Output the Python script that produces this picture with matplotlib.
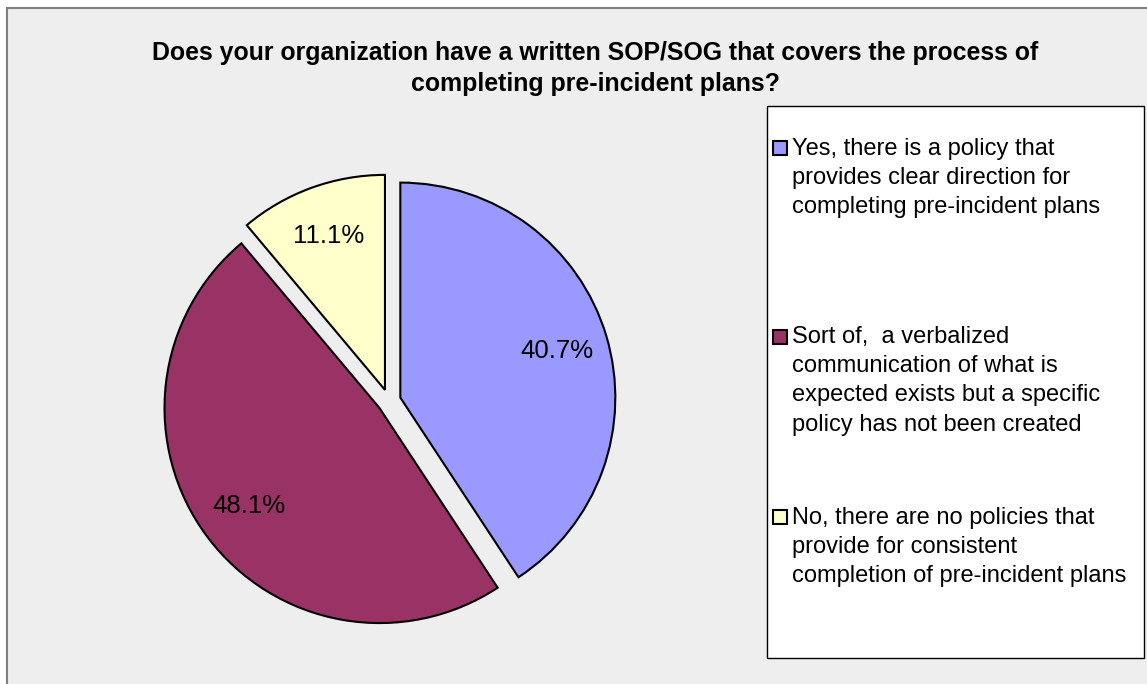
import matplotlib.pyplot as plt
from matplotlib import font_manager
from matplotlib.patches import Rectangle

# survey responses, percent of respondents
labels = [
    "Yes, there is a policy that\nprovides clear direction for\ncompleting pre-incident plans",
    "Sort of,  a verbalized\ncommunication of what is\nexpected exists but a specific\npolicy has not been created",
    "No, there are no policies that\nprovide for consistent\ncompletion of pre-incident plans",
]
shares = [40.7, 48.1, 11.1]
colors = ["#9999FF", "#993366", "#FFFFCC"]

title = ("Does your organization have a written SOP/SOG that covers the process of\n"
         "completing pre-incident plans?")

W, H = 1147, 684


def fx(x):
    return x / W


def fy(y):
    return 1 - y / H


installed = {f.name for f in font_manager.fontManager.ttflist}
narrow = "Liberation Sans Narrow" in installed
title_font = "Liberation Sans Narrow" if narrow else "Liberation Sans"
title_size = 21 if narrow else 17.9
plt.rcParams["font.family"] = ["Liberation Sans", "DejaVu Sans"]

fig = plt.figure(figsize=(W / 100, H / 100), dpi=100, facecolor="white")

# chart area with its grey frame running off the right and bottom
fig.patches.append(Rectangle((fx(7), fy(H + 20)), fx(W + 40), fy(8) - fy(H + 20),
                             transform=fig.transFigure, facecolor="#EEEEEE",
                             edgecolor="#7F7F7F", linewidth=1.5, zorder=-2))

# pie: centre (389, 401) px, radius 215 px
cx, cy, r = 389, 401, 215
half = 1.25 * r
ax = fig.add_axes([fx(cx - half), fy(cy + half), 2 * half / W, 2 * half / H])
ax.set_zorder(2)
ax.set_facecolor("none")
ax.pie(shares, colors=colors, startangle=90, counterclock=False,
       explode=[0.055] * 3, radius=1, pctdistance=0.76,
       autopct="%1.1f%%",
       wedgeprops=dict(edgecolor="black", linewidth=1.5),
       textprops=dict(fontsize=18.5, color="black"))
ax.set_xlim(-1.25, 1.25)
ax.set_ylim(-1.25, 1.25)
ax.set_aspect("equal")

# va="baseline" pins the last line, so anchor on the second title line
fig.text(fx(595), fy(91), title, ha="center", va="baseline", multialignment="center",
         fontsize=title_size, fontweight="bold", family=title_font, linespacing=1.36)

# legend box
fig.patches.append(Rectangle((fx(767), fy(658)), (1144 - 767) / W, (658 - 106) / H,
                             transform=fig.transFigure, facecolor="white",
                             edgecolor="black", linewidth=1.0, zorder=-1))
first_baselines = [156, 345, 525]
step = 28.5
for label, color, base in zip(labels, colors, first_baselines):
    n_lines = label.count("\n")
    fig.patches.append(Rectangle((fx(773), fy(base - 1)), 14 / W, 14 / H,
                                 transform=fig.transFigure, facecolor=color,
                                 edgecolor="black", linewidth=1.5, zorder=3))
    fig.text(fx(792), fy(base + n_lines * step), label, ha="left", va="baseline",
             fontsize=17, linespacing=1.42, zorder=3)

fig.savefig("out.png", dpi=100, facecolor="white")
